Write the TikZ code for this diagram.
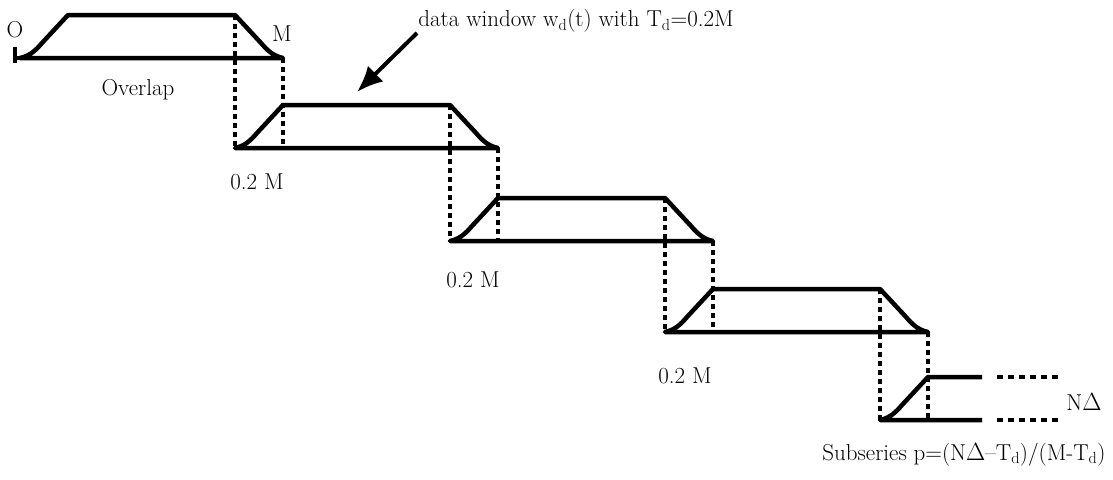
\documentclass[tikz,border=0pt]{standalone}
\usepackage{fontspec}
\usepackage{amsmath}
\usepackage{tikz}
\usetikzlibrary{arrows.meta}

\tikzset{
  win/.style={line width=4.5pt,line join=round},
  dots/.style={line width=4.5pt,dash pattern=on 4.5pt off 4.5pt},
  hdots/.style={line width=4.5pt,dash pattern=on 6pt off 5pt},
  lbl/.style={inner sep=0pt,font=\fontsize{23}{27}\selectfont}
}

\begin{document}
\begin{tikzpicture}[x=1pt,y=-1pt]
\useasboundingbox (0,0) rectangle (1113,479);

% the four full windows, (x,y) = left end of the base line
\foreach \x/\y in {20/58, 235/148, 450/241, 665/332}
  \draw[win] (\x+263,\y) -- (\x,\y) .. controls (\x+10,\y-2) and (\x+16,\y-8) .. (\x+22,\y-15)
     -- (\x+48,\y-43) -- (\x+215,\y-43) -- (\x+241,\y-15)
     .. controls (\x+247,\y-8) and (\x+253,\y-2) .. cycle;
\draw[win] (20,58) -- (16,58);
\draw[win] (15,47) -- (15,63);

% overlap lines down to the next window
\foreach \x/\y/\yn in {20/58/148, 235/148/241, 450/241/332, 665/332/420}{
  \draw[dots] (\x+215,\y-43) -- (\x+215,\yn);
  \draw[dots] (\x+263,\y) -- (\x+263,\yn);
}

% last window, cut off
\draw[win] (982,420) -- (880,420) .. controls (890,418) and (896,412) .. (902,405) -- (928,377) -- (982,377);
\draw[hdots] (997,377) -- (1062,377);
\draw[hdots] (997,420) -- (1062,420);

\node[lbl] (lblO) at (15,30) {O};
\node[lbl] (lblM) at (282,34) {M};
\node[lbl] (overlap) at (138,90) {Overlap};
\node[lbl] (ofs1) at (257,182) {0.2 M};
\node[lbl] (ofs2) at (473,280) {0.2 M};
\node[lbl] (ofs3) at (685,376) {0.2 M};
\node[lbl] (ndelta) at (1084,402) {N$\Delta$};
\node[lbl,anchor=base] (subser) at (964,460) {Subseries p=(N$\Delta$--T\textsubscript{d})/(M-T\textsubscript{d})};
\node[lbl,anchor=base] (title) at (576,27) {data window w\textsubscript{d}(t) with T\textsubscript{d}=0.2M};

\coordinate (arrtail) at (417,33);
\coordinate (arrtip) at (357,92);
\draw[line width=4pt,-{Latex[length=26pt,width=22pt]}] (arrtail) -- (arrtip);
\end{tikzpicture}
\end{document}
